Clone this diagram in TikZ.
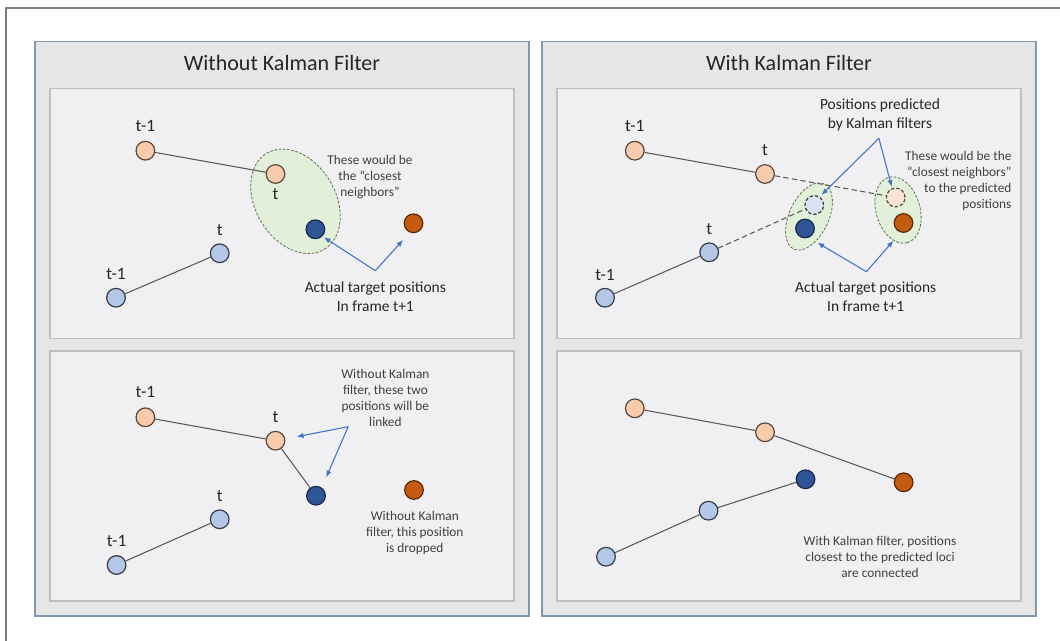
\documentclass[tikz,border=0pt]{standalone}
\usepackage{fontspec}
\setmainfont{Carlito}
\usetikzlibrary{shapes.geometric,arrows.meta}
\definecolor{panelfill}{HTML}{E7E6E6}
\definecolor{panelline}{HTML}{8497B0}
\definecolor{boxfill}{HTML}{F0F0F2}
\definecolor{boxline}{HTML}{BFBFBF}
\definecolor{lorange}{HTML}{F8CBAD}
\definecolor{lblue}{HTML}{B4C7E7}
\definecolor{dblue}{HTML}{2F5597}
\definecolor{dorange}{HTML}{C55A11}
\definecolor{porange}{HTML}{FBE5D6}
\definecolor{pblue}{HTML}{DAE3F3}
\definecolor{gfill}{HTML}{E2F0D9}
\definecolor{gline}{HTML}{5F7052}
\definecolor{arr}{HTML}{4472C4}
\definecolor{txt}{HTML}{262626}
\definecolor{note}{HTML}{404040}
\definecolor{link}{HTML}{595959}
\definecolor{framec}{HTML}{7F7F7F}
\begin{document}
\begin{tikzpicture}[x=0.75pt,y=-0.75pt,
  dot/.style={circle, minimum size=14pt, inner sep=0pt, line width=0.9pt},
  lo/.style={dot, fill=lorange, draw=lorange!35!black},
  lb/.style={dot, fill=lblue, draw=lblue!30!black},
  db/.style={dot, fill=dblue, draw=dblue!50!black},
  dko/.style={dot, fill=dorange, draw=dorange!45!black},
  plo/.style={dot, fill=porange, draw=lorange!35!black, dashed, dash pattern=on 2.5pt off 1.5pt},
  plb/.style={dot, fill=pblue, draw=lblue!30!black, dashed, dash pattern=on 2.5pt off 1.5pt},
  zone/.style={ellipse, inner sep=0pt, fill=gfill, draw=gline, line width=0.6pt, dash pattern=on 2pt off 1.2pt},
  panel/.style={fill=panelfill, draw=panelline, line width=1.1pt},
  box/.style={fill=boxfill, draw=boxline, line width=1.1pt},
  title/.style={text=txt, font=\fontsize{16.5}{20}\selectfont},
  lab/.style={text=txt, font=\fontsize{13}{15}\selectfont, inner sep=0pt},
  mid/.style={text=txt, align=center, font=\fontsize{11.6}{14.2}\selectfont, inner sep=0pt},
  note/.style={text=note, align=center, font=\fontsize{10}{12}\selectfont, inner sep=0pt},
  link/.style={draw=link, line width=0.8pt},
  dlink/.style={draw=link, line width=0.8pt, dash pattern=on 4pt off 2.5pt},
  arrow/.style={draw=arr, line width=0.8pt, -{Latex[length=5pt,width=4pt]}}
]
\useasboundingbox (0,0) rectangle (1060,641);
\fill[white] (0,0) rectangle (1060,641);
\draw[framec, line width=1.1pt] (6,641) -- (6,8) -- (1060,8);

% panels
\draw[panel] (35,41.7) rectangle (529,616);
\draw[panel] (542,41.7) rectangle (1036,616);
\draw[box] (50,88.3) rectangle (514,338.5);
\draw[box] (50,351) rectangle (514,601);
\draw[box] (557,88.3) rectangle (1021,338.5);
\draw[box] (557,351) rectangle (1021,601);

\node[title] (T1) at (282,63) {Without Kalman Filter};
\node[title] (T2) at (789,63) {With Kalman Filter};

% ---------- left top ----------
\node[zone, minimum width=84pt, minimum height=60pt, rotate=-59] (Z1) at (295.5,201.3) {};
\node[lo] (a1) at (145.4,150.7) {};
\node[lo] (a2) at (275.5,174) {};
\node[db] (a3) at (315.4,229.3) {};
\node[dko] (a4) at (413.5,223.3) {};
\node[lb] (a5) at (116,297.7) {};
\node[lb] (a6) at (219.7,253.3) {};
\draw[link] (a1) -- (a2);
\draw[link] (a5) -- (a6);
\node[lab] (la1) at (145.4,125.7) {t-1};
\node[lab] (la2) at (275.5,194.3) {t};
\node[lab] (la6) at (219.7,230) {t};
\node[lab] (la5) at (116,274) {t-1};
\node[note] (n1) at (370,176.7) {These would be\\the “closest\\neighbors”};
\coordinate (ap1) at (375.3,270.7);
\coordinate (ah1) at (323.9,237.3);
\coordinate (ah2) at (403,240);
\draw[arrow] (ap1) -- (ah1);
\draw[arrow] (ap1) -- (ah2);
\node[mid] (m1) at (375.3,296.7) {Actual target positions\\In frame t+1};

% ---------- left bottom ----------
\node[lo] (b1) at (145.4,417.3) {};
\node[lo] (b2) at (275.5,440.7) {};
\node[db] (b3) at (316,495.7) {};
\node[dko] (b4) at (414,490) {};
\node[lb] (b5) at (116.6,565) {};
\node[lb] (b6) at (219.7,519.3) {};
\draw[link] (b1) -- (b2) -- (b3);
\draw[link] (b5) -- (b6);
\node[lab] (lb1) at (145.4,391.7) {t-1};
\node[lab] (lb2) at (275.5,417.3) {t};
\node[lab] (lb6) at (219.7,496) {t};
\node[lab] (lb5) at (116.6,540.7) {t-1};
\node[note] (n2) at (385.4,398.3) {Without Kalman\\filter, these two\\positions will be\\linked};
\coordinate (bp1) at (348.2,426.7);
\coordinate (bh1) at (296.8,436.7);
\coordinate (bh2) at (326.2,477.3);
\draw[arrow] (bp1) -- (bh1);
\draw[arrow] (bp1) -- (bh2);
\node[note] (n3) at (414.8,533.3) {Without Kalman\\filter, this position\\is dropped};

% ---------- right top ----------
\node[zone, minimum width=54pt, minimum height=29.5pt, rotate=65] (Z2) at (809,216.5) {};
\node[zone, minimum width=51pt, minimum height=33pt, rotate=-74] (Z3) at (898,210) {};
\node[lo] (c1) at (634.8,150.7) {};
\node[lo] (c2) at (765,174) {};
\node[plo] (c3) at (895.7,197.5) {};
\node[dko] (c4) at (903.5,223) {};
\node[lb] (c5) at (605,297.7) {};
\node[lb] (c6) at (709.2,252.3) {};
\node[plb] (c7) at (814.3,205) {};
\node[db] (c8) at (805,228.5) {};
\draw[link] (c1) -- (c2);
\draw[link] (c5) -- (c6);
\draw[dlink] (c2) -- (c3);
\draw[dlink] (c6) -- (c7);
\node[lab] (lc1) at (634.8,126) {t-1};
\node[lab] (lc2) at (765,150) {t};
\node[lab] (lc6) at (709.2,229.3) {t};
\node[lab] (lc5) at (605,275.3) {t-1};
\node[mid] (m2) at (880,114.5) {Positions predicted\\by Kalman filters};
\coordinate (cp1) at (878.9,138.3);
\coordinate (ch1) at (821.4,195);
\coordinate (ch2) at (891.7,186.7);
\draw[arrow] (cp1) -- (ch1);
\draw[arrow] (cp1) -- (ch2);
\node[note, align=right, anchor=east] (n4) at (1011.7,181) {These would be the\\“closest neighbors”\\to the predicted\\positions};
\coordinate (cp2) at (866.4,271.7);
\coordinate (ch3) at (817.4,242.7);
\coordinate (ch4) at (893.4,240.7);
\draw[arrow] (cp2) -- (ch3);
\draw[arrow] (cp2) -- (ch4);
\node[mid] (m3) at (865.7,296.7) {Actual target positions\\In frame t+1};

% ---------- right bottom ----------
\node[lo] (d1) at (634.8,408.3) {};
\node[lo] (d2) at (765,432.3) {};
\node[dko] (d3) at (903.6,482.3) {};
\node[lb] (d4) at (606,556.7) {};
\node[lb] (d5) at (708.5,510.7) {};
\node[db] (d6) at (805.5,479.3) {};
\draw[link] (d1) -- (d2) -- (d3);
\draw[link] (d4) -- (d5) -- (d6);
\node[note] (n5) at (880,556.7) {With Kalman filter, positions\\closest to the predicted loci\\are connected};
\end{tikzpicture}
\end{document}
